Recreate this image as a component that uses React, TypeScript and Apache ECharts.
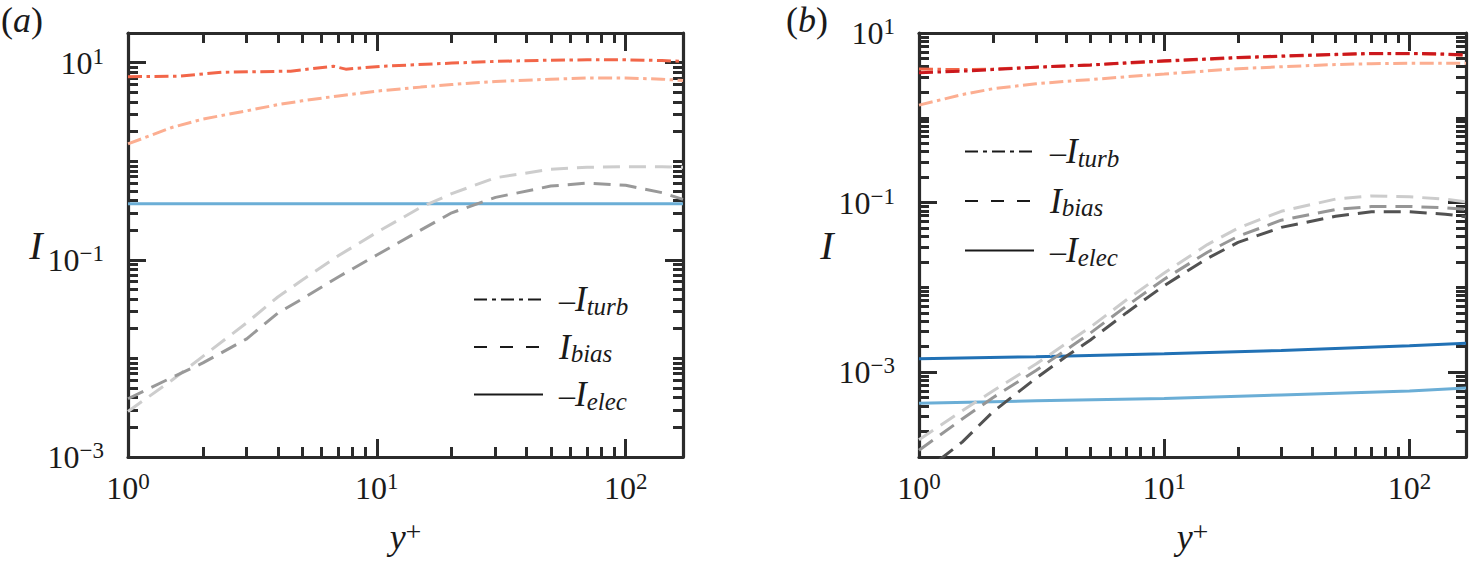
import { useEffect, useRef } from 'react';
import * as echarts from 'echarts';

const FONT = 'Liberation Serif';
const INK = '#1a1a1a';
const AXIS = '#2b2b2b';

// shared y+ sample points
const yPlus = [1, 1.5, 2, 3, 4, 5, 7, 10, 15, 20, 30, 50, 70, 100, 140, 170];

// panel (a)
const aTurbX = [1, 1.6, 2.4, 4.5, 6.7, 7.5, 10.5, 20, 30, 50, 70, 100, 140, 170];
const aTurbDark = [7.2, 7.3, 8.0, 8.2, 9.2, 8.6, 9.2, 9.9, 10.3, 10.6, 10.7, 10.7, 10.5, 10.3];
const aTurbLight = [1.5, 2.2, 2.68, 3.25, 3.75, 4.1, 4.6, 5.15, 5.65, 6.0, 6.45, 6.8, 7.0, 7.0, 6.8, 6.6];
const aBiasDark = [0.0039, 0.0064, 0.009, 0.0158, 0.0288, 0.04, 0.067, 0.112, 0.2, 0.3, 0.43, 0.56, 0.6, 0.57, 0.48, 0.41];
const aBiasLight = [0.0029, 0.006, 0.0105, 0.023, 0.042, 0.062, 0.11, 0.19, 0.34, 0.47, 0.68, 0.83, 0.87, 0.88, 0.88, 0.87];
const aElecX = [1, 170];
const aElec = [0.37, 0.37];

// panel (b)
const bTurbDark = [3.4, 3.55, 3.7, 3.95, 4.1, 4.2, 4.45, 4.7, 4.95, 5.15, 5.35, 5.6, 5.75, 5.75, 5.65, 5.5];
const bTurbMid = [3.75, 3.7, 3.75, 3.95, 4.1, 4.2, 4.4, 4.65, 4.9, 5.1, 5.3, 5.55, 5.7, 5.7, 5.6, 5.45];
const bTurbLight = [1.41, 1.88, 2.2, 2.52, 2.7, 2.82, 3.05, 3.28, 3.58, 3.8, 4.0, 4.25, 4.35, 4.4, 4.4, 4.4];
const bBiasLight = [1.6e-4, 3.5e-4, 6.0e-4, 1.25e-3, 2.2e-3, 3.4e-3, 7.1e-3, 0.0148, 0.032, 0.05, 0.079, 0.11, 0.12, 0.117, 0.11, 0.102];
const bBiasMid = [1.2e-4, 2.8e-4, 5.0e-4, 1.05e-3, 1.85e-3, 2.9e-3, 6.0e-3, 0.0125, 0.026, 0.04, 0.062, 0.083, 0.09, 0.09, 0.087, 0.083];
const bBiasDark = [6e-5, 1.5e-4, 3.4e-4, 8.5e-4, 1.55e-3, 2.4e-3, 5.0e-3, 0.0105, 0.022, 0.034, 0.051, 0.069, 0.078, 0.078, 0.073, 0.068];
const bElecX = [1, 3, 10, 30, 100, 170];
const bElecDark = [1.44e-3, 1.52e-3, 1.65e-3, 1.8e-3, 2.05e-3, 2.2e-3];
const bElecLight = [4.3e-4, 4.6e-4, 4.9e-4, 5.4e-4, 6.0e-4, 6.5e-4];

// ticks
const xMajor = [1, 10, 100];
const yMajor = [0.001, 0.1, 10];
const subs = [1, 2, 3, 4, 5, 6, 7, 8, 9];

const legendText: Record<string, string> = {
  turb: '{m|\u2013}{i|I}{s|turb}',
  bias: '{ip|I}{s|bias}',
  elec: '{m|\u2013}{i|I}{s|elec}',
};

const DASH_DOT = [14, 4.5, 3.5, 4.5];
const DASHED = [17, 9];
const LEGEND_DASH_DOT = [13, 5, 4, 5];
const LEGEND_DASHED = [13, 13];

function minorTicks(lo: number, hi: number, majors: number[]) {
  const out: number[] = [];
  for (let n = -5; n <= 3; n++) {
    subs.forEach(k => {
      const v = Number((k * Math.pow(10, n)).toPrecision(6));
      if (v >= lo && v <= hi && !majors.includes(v)) out.push(v);
    });
  }
  return out;
}

function pow10Label(v: number) {
  const e = Math.round(Math.log10(v));
  return `{b|10}{s|${e < 0 ? '\u2212' + -e : e}}`;
}

const labelRich = {
  b: { fontFamily: FONT, fontSize: 32, fontWeight: 'normal', color: INK, lineHeight: 36 },
  s: { fontFamily: FONT, fontSize: 23, fontWeight: 'normal', color: INK, lineHeight: 23, verticalAlign: 'top' },
};

const zip = (xs: number[], ys: number[]) => ys.map((y, i) => [xs[i], y]);

function makeXAxes(gridIndex: number, min: number, max: number) {
  const base = {
    type: 'log', logBase: 10, min, max, gridIndex,
    splitLine: { show: false }, axisLabel: { show: false },
  };
  const lineOn = { show: true, lineStyle: { color: AXIS, width: 3.2 } };
  const major = { show: true, inside: true, length: 18, lineStyle: { color: AXIS, width: 3 }, customValues: xMajor };
  const minor = { show: true, inside: true, length: 10, lineStyle: { color: AXIS, width: 3 }, customValues: minorTicks(min, max, xMajor) };
  return [
    {
      ...base, position: 'bottom', axisLine: lineOn, axisTick: major,
      axisLabel: {
        show: true, customValues: xMajor, formatter: pow10Label, margin: 13,
        fontFamily: FONT, fontSize: 32, color: INK, rich: labelRich,
      },
      name: '{i|y}{p|+}', nameLocation: 'middle', nameGap: 60,
      nameTextStyle: {
        fontFamily: FONT,
        rich: {
          i: { fontFamily: FONT, fontStyle: 'italic', fontSize: 36, color: INK, lineHeight: 40 },
          p: { fontFamily: FONT, fontSize: 28, color: INK, lineHeight: 28, verticalAlign: 'top' },
        },
      },
    },
    { ...base, position: 'bottom', axisLine: { show: false }, axisTick: minor },
    { ...base, position: 'top', axisLine: lineOn, axisTick: major },
    { ...base, position: 'top', axisLine: { show: false }, axisTick: minor },
  ];
}

function makeYAxes(gridIndex: number, min: number, max: number) {
  const base = {
    type: 'log', logBase: 10, min, max, gridIndex,
    splitLine: { show: false }, axisLabel: { show: false },
  };
  const lineOn = { show: true, lineStyle: { color: AXIS, width: 3.2 } };
  const major = { show: true, inside: true, length: 18, lineStyle: { color: AXIS, width: 3 }, customValues: yMajor };
  const minor = { show: true, inside: true, length: 10, lineStyle: { color: AXIS, width: 3 }, customValues: minorTicks(min, max, yMajor) };
  return [
    {
      ...base, position: 'left', axisLine: lineOn, axisTick: major,
      axisLabel: {
        show: true, customValues: yMajor, formatter: pow10Label, margin: 24,
        fontFamily: FONT, fontSize: 32, color: INK, rich: labelRich,
      },
      name: '{i|I}', nameLocation: 'middle', nameRotate: 0, nameGap: 80,
      nameTextStyle: {
        fontFamily: FONT,
        rich: { i: { fontFamily: FONT, fontStyle: 'italic', fontSize: 40, color: INK, lineHeight: 44 } },
      },
    },
    { ...base, position: 'left', axisLine: { show: false }, axisTick: minor },
    { ...base, position: 'right', axisLine: lineOn, axisTick: major },
    { ...base, position: 'right', axisLine: { show: false }, axisTick: minor },
  ];
}

function curve(name: string, axis: number, xs: number[], ys: number[], color: string, dash: number[] | 'solid') {
  return {
    name, type: 'line', xAxisIndex: axis, yAxisIndex: axis, data: zip(xs, ys),
    symbol: 'none', clip: true, z: 3,
    lineStyle: { color, width: 3, type: dash },
  };
}

function legendSeries(name: string, axis: number, dash: number[] | 'solid') {
  return {
    name, type: 'line', xAxisIndex: axis, yAxisIndex: axis, data: [],
    symbol: 'none', itemStyle: { color: 'rgba(0,0,0,0)' },
    lineStyle: { color: INK, width: 3.6, type: dash },
  };
}

const legendRich = {
  m: { fontFamily: FONT, fontSize: 32, color: INK, lineHeight: 38, padding: [0, 0, 0, 11] },
  i: { fontFamily: FONT, fontStyle: 'italic', fontSize: 35, color: INK, lineHeight: 38 },
  ip: { fontFamily: FONT, fontStyle: 'italic', fontSize: 35, color: INK, lineHeight: 38, padding: [0, 0, 0, 11] },
  s: { fontFamily: FONT, fontStyle: 'italic', fontSize: 25, color: INK, lineHeight: 25, verticalAlign: 'bottom' },
};

function makeLegend(prefix: string, left: number, top: number, gap: number) {
  return {
    orient: 'vertical', left, top, itemWidth: 69, itemHeight: 14, itemGap: gap,
    selectedMode: false,
    data: ['turb', 'bias', 'elec'].map(k => prefix + k),
    formatter: (name: string) => legendText[name.slice(prefix.length)],
    itemStyle: { opacity: 0, borderWidth: 0 },
    textStyle: { color: INK, fontFamily: FONT, rich: legendRich },
  };
}

const panelTitleRich = {
  n: { fontFamily: FONT, fontSize: 36, fontWeight: 'normal', color: INK, lineHeight: 40 },
  i: { fontFamily: FONT, fontStyle: 'italic', fontSize: 36, fontWeight: 'normal', color: INK, lineHeight: 40 },
};

export default function App() {
  const chartRef = useRef<HTMLDivElement>(null);

  useEffect(() => {
    if (!chartRef.current) return;
    const chart = echarts.init(chartRef.current, null, { renderer: 'svg' });

    chart.setOption({
      animation: false,
      backgroundColor: '#ffffff',
      textStyle: { fontFamily: FONT },
      title: [
        { text: '{n|(}{i|a}{n|)}', left: 1, top: 0, padding: 0, textStyle: { fontWeight: 'normal', fontFamily: FONT, rich: panelTitleRich } },
        { text: '{n|(}{i|b}{n|)}', left: 786, top: 0, padding: 0, textStyle: { fontWeight: 'normal', fontFamily: FONT, rich: panelTitleRich } },
      ],
      grid: [
        { left: 128, top: 33, width: 555, height: 424 },
        { left: 919, top: 33, width: 547, height: 424 },
      ],
      xAxis: [...makeXAxes(0, 1, 170), ...makeXAxes(1, 1, 170)],
      yAxis: [...makeYAxes(0, 0.001, 20), ...makeYAxes(1, 0.0001, 10)],
      legend: [makeLegend('a-', 468, 277, 11), makeLegend('b-', 959, 129, 13)],
      series: [
        // panel (a)
        curve('a1', 0, aElecX, aElec, '#6baed6', 'solid'),
        curve('a2', 0, yPlus, aBiasLight, '#cdcdcd', DASHED),
        curve('a3', 0, yPlus, aBiasDark, '#999999', DASHED),
        curve('a4', 0, yPlus, aTurbLight, '#fcae91', DASH_DOT),
        curve('a5', 0, aTurbX, aTurbDark, '#f26649', DASH_DOT),
        legendSeries('a-turb', 0, LEGEND_DASH_DOT),
        legendSeries('a-bias', 0, LEGEND_DASHED),
        legendSeries('a-elec', 0, 'solid'),
        // panel (b)
        curve('b1', 4, bElecX, bElecLight, '#6baed6', 'solid'),
        curve('b2', 4, bElecX, bElecDark, '#2171b5', 'solid'),
        curve('b3', 4, yPlus, bBiasLight, '#cccccc', DASHED),
        curve('b4', 4, yPlus, bBiasMid, '#969696', DASHED),
        curve('b5', 4, yPlus, bBiasDark, '#525252', DASHED),
        curve('b6', 4, yPlus, bTurbLight, '#fcae91', DASH_DOT),
        curve('b7', 4, yPlus, bTurbMid, '#f26649', DASH_DOT),
        curve('b8', 4, yPlus, bTurbDark, '#cb181d', DASH_DOT),
        legendSeries('b-turb', 4, LEGEND_DASH_DOT),
        legendSeries('b-bias', 4, LEGEND_DASHED),
        legendSeries('b-elec', 4, 'solid'),
      ],
    });

    return () => chart.dispose();
  }, []);

  return (
    <div
      ref={chartRef}
      style={{ position: 'fixed', left: 0, top: 0, width: 1473, height: 562, background: '#fff' }}
    />
  );
}
